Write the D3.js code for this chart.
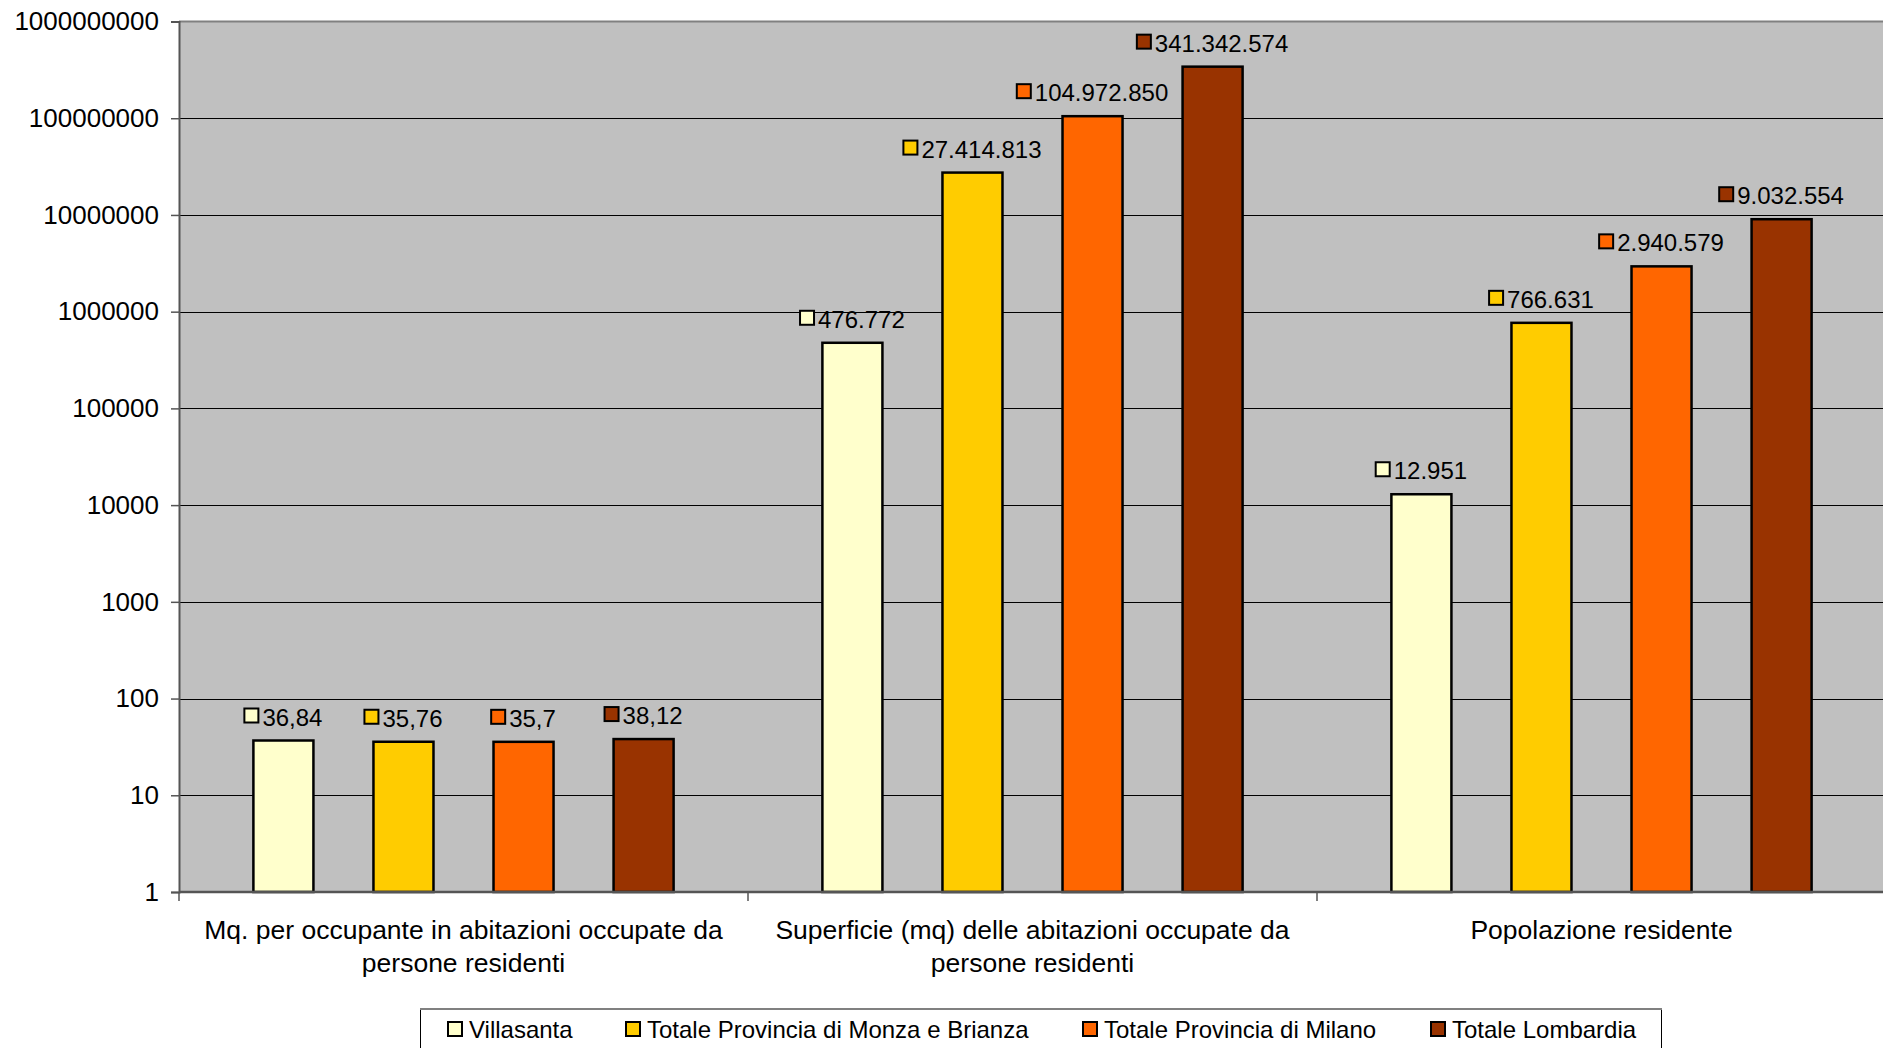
<!DOCTYPE html>
<html><head><meta charset="utf-8">
<script src="https://cdn.jsdelivr.net/npm/d3@7/dist/d3.min.js"></script>
<style>
html,body{margin:0;padding:0;background:#fff;}
svg{display:block;font-family:"Liberation Sans",Arial,sans-serif;}
</style></head>
<body>
<svg id="chart" width="1883" height="1048"></svg>
<script>
const categories = [
  ["Mq. per occupante in abitazioni occupate da", "persone residenti"],
  ["Superficie (mq) delle abitazioni occupate da", "persone residenti"],
  ["Popolazione residente"]
];
const seriesNames = ["Villasanta", "Totale Provincia di Monza e Brianza", "Totale Provincia di Milano", "Totale Lombardia"];
const seriesColors = ["#FFFFCC", "#FFCC00", "#FF6600", "#993300"];
const villasanta = [36.84, 476772, 12951];
const monzaBrianza = [35.76, 27414813, 766631];
const milano = [35.7, 104972850, 2940579];
const lombardia = [38.12, 341342574, 9032554];
const valueLabels = [
  ["36,84", "476.772", "12.951"],
  ["35,76", "27.414.813", "766.631"],
  ["35,7", "104.972.850", "2.940.579"],
  ["38,12", "341.342.574", "9.032.554"]
];
const tickValues = [1, 10, 100, 1000, 10000, 100000, 1000000, 10000000, 100000000, 1000000000];
const tickLabels = ["1", "10", "100", "1000", "10000", "100000", "1000000", "10000000", "100000000", "1000000000"];

(function () {
const series = [villasanta, monzaBrianza, milano, lombardia];

const svg = d3.select("#chart");
const pL = 179, pR = 1886, pT = 21.5, pB = 892;

const x = d3.scaleBand().domain(d3.range(categories.length)).range([pL, pR]).padding(0);
const y = d3.scaleLog().domain([1, 1e9]).range([pB, pT]);

// plot background
svg.append("rect").attr("x", pL).attr("y", pT).attr("width", pR - pL).attr("height", pB - pT).attr("fill", "#C0C0C0");

// gridlines
svg.append("g").selectAll("line").data(tickValues.slice(1, -1)).join("line")
  .attr("x1", pL).attr("x2", pR)
  .attr("y1", d => Math.round(y(d)) + 0.5).attr("y2", d => Math.round(y(d)) + 0.5)
  .attr("stroke", "#000").attr("stroke-width", 1);
// top border
svg.append("line").attr("x1", pL).attr("x2", pR).attr("y1", pT).attr("y2", pT).attr("stroke", "#808080").attr("stroke-width", 2);

// y axis
const yAxis = d3.axisLeft(y).tickValues(tickValues).tickFormat((d, i) => tickLabels[i]).tickSize(8).tickPadding(12);
const gy = svg.append("g").attr("transform", `translate(${pL},0)`).call(yAxis);
gy.select(".domain").attr("stroke", "#555").attr("stroke-width", 2);
gy.selectAll(".tick line").attr("stroke", "#555").attr("stroke-width", 1.5);
gy.selectAll(".tick text").attr("font-size", 26).attr("fill", "#000").attr("font-family", "'Liberation Sans', Arial, sans-serif");

// bars
const bw = x.bandwidth() * 0.1055;
const step = bw * 2;
const groupW = 3 * step + bw;
function barX(ci, si) { return x(ci) + (x.bandwidth() - groupW) / 2 + si * step; }

series.forEach((vals, si) => {
  const g = svg.append("g");
  g.selectAll("rect").data(vals).join("rect")
    .attr("x", (d, ci) => barX(ci, si))
    .attr("y", d => y(d))
    .attr("width", bw)
    .attr("height", d => pB - y(d))
    .attr("fill", seriesColors[si])
    .attr("stroke", "#000").attr("stroke-width", 2.5);
});

// x axis line and category ticks
svg.append("line").attr("x1", pL).attr("x2", pR).attr("y1", pB).attr("y2", pB).attr("stroke", "#555").attr("stroke-width", 2.5);
const bounds = d3.range(categories.length).map(i => x(i));
svg.append("g").selectAll("line").data(bounds).join("line")
  .attr("x1", d => d).attr("x2", d => d).attr("y1", pB).attr("y2", pB + 9)
  .attr("stroke", "#555").attr("stroke-width", 1.5);

// value labels
series.forEach((vals, si) => {
  vals.forEach((v, ci) => {
    const cx = barX(ci, si) + bw / 2;
    const g = svg.append("g");
    const t = g.append("text").text(valueLabels[si][ci]).attr("font-size", 24).attr("fill", "#000");
    const tw = t.node().getComputedTextLength();
    const sq = 14, gap = 4;
    const total = sq + gap + tw;
    const x0 = cx - total / 2;
    const base = y(v) - 15;
    g.append("rect").attr("x", x0).attr("y", base - 17).attr("width", sq).attr("height", sq)
      .attr("fill", seriesColors[si]).attr("stroke", "#000").attr("stroke-width", 2);
    t.attr("x", x0 + sq + gap).attr("y", base);
  });
});

// category labels
categories.forEach((lines, ci) => {
  const cx = x(ci) + x.bandwidth() / 2;
  const t = svg.append("text").attr("text-anchor", "middle").attr("font-size", 26.5).attr("fill", "#000");
  lines.forEach((ln, li) => {
    t.append("tspan").attr("x", cx).attr("y", 939 + li * 33).text(ln);
  });
});

// legend
const lg = svg.append("g");
lg.append("rect").attr("x", 420.5).attr("y", 1009).attr("width", 1241).attr("height", 60)
  .attr("fill", "#fff").attr("stroke", "#000").attr("stroke-width", 1);
lg.append("line").attr("x1", 420).attr("x2", 1662).attr("y1", 1009).attr("y2", 1009).attr("stroke", "#808080").attr("stroke-width", 2);
const legendX = [448, 626, 1083, 1431];
seriesNames.forEach((nm, i) => {
  lg.append("rect").attr("x", legendX[i]).attr("y", 1022).attr("width", 14).attr("height", 14)
    .attr("fill", seriesColors[i]).attr("stroke", "#000").attr("stroke-width", 2);
  lg.append("text").attr("x", legendX[i] + 21).attr("y", 1038).attr("font-size", 24).attr("fill", "#000").text(nm);
});
})();
</script>
</body></html>
